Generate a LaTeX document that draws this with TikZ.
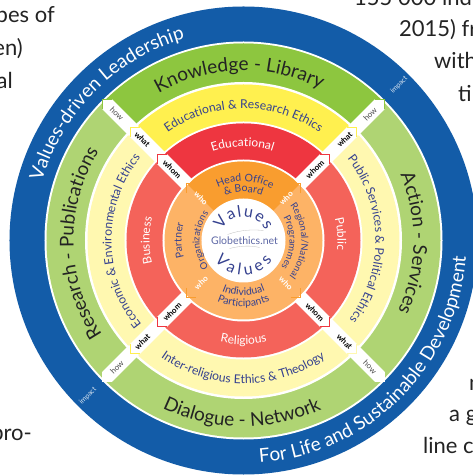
\documentclass[tikz,border=0pt]{standalone}
\usepackage{fontspec}
\setmainfont{Lato}
\usetikzlibrary{decorations.text}
\definecolor{blueband}{HTML}{135CA8}
\definecolor{greentop}{HTML}{8DC63F}
\definecolor{greenside}{HTML}{AFD473}
\definecolor{yellowtop}{HTML}{FFF04F}
\definecolor{yellowside}{HTML}{FFF8B0}
\definecolor{redtop}{HTML}{EE3640}
\definecolor{redside}{HTML}{F4635A}
\definecolor{orangetop}{HTML}{F99D2F}
\definecolor{orangeside}{HTML}{FDB366}
\definecolor{navytext}{HTML}{35418F}
\definecolor{darktext}{HTML}{232323}
\newcommand{\sized}[1]{\fontsize{#1}{#1}\selectfont}
% size, colour, radius, from, to, text
\newcommand{\arctext}[6]{
  \pgfmathsetmacro{\arcfrom}{#4+0.2*(#4-(#5))}
  \pgfmathsetmacro{\arcto}{#5-0.2*(#4-(#5))}
  \path[decorate,decoration={text along path,text align=center,
    text={|\sized{#1}\color{#2}|#6}}]
    (\arcfrom:#3pt) arc[start angle=\arcfrom,end angle=\arcto,radius=#3pt];
}
% angle, inner radius, tip radius, tip colour
\newcommand{\whiteband}[4]{
  \begin{scope}[rotate=#1]
    \fill[white] (#2,-7) -- (#3-7,-7) -- (#3,0) -- (#3-7,7) -- (#2,7) -- cycle;
    \draw[#4,line width=1pt] (#3-7,-7) -- (#3,0) -- (#3-7,7);
  \end{scope}
}
% radius, colour
\newcommand{\topsector}[2]{
  \fill[#2] (0,0) -- (135:#1pt) arc[start angle=135,end angle=45,radius=#1pt] -- cycle;
}
\tikzset{
  bandlabel/.style={font=\sized{8},inner sep=0pt},
  outsidetext/.style={font=\sized{22},text=darktext,inner sep=0pt},
}
\begin{document}
\begin{tikzpicture}[x=1pt,y=1pt]
  \useasboundingbox (-243.5,-235.5) rectangle (229.5,240.5);
  \clip (-243.5,-235.5) rectangle (229.5,240.5);
  \fill[white] (-243.5,-235.5) rectangle (229.5,240.5);
  % text around the wheel
  \begin{scope}[shift={(-243.5,240.5)},y=-1pt]
    \node[outsidetext,anchor=base east] (textA) at (55,23) {pes of};
    \node[outsidetext,anchor=base east] (textB) at (23,56) {en)};
    \node[outsidetext,anchor=base east] (textC) at (13,89) {al};
    \node[outsidetext,anchor=base west] (textD) at (354,6) {155 000 indi};
    \node[outsidetext,anchor=base west] (textE) at (399,37) {2015) fr};
    \node[outsidetext,anchor=base west] (textF) at (434,69) {with};
    \node[outsidetext,anchor=base west] (textG) at (458,102) {ti};
    \node[outsidetext,anchor=base east] (textH) at (32,440) {pro-};
    \node[outsidetext,anchor=base west] (textI) at (469,390) {n};
    \node[outsidetext,anchor=base west] (textJ) at (449,421) {a g};
    \node[outsidetext,anchor=base west] (textK) at (423,453) {line c};
  \end{scope}
  % rings
  \fill[blueband] (0,0) circle (234pt);
  \fill[white] (0,0) circle (199pt);
  \fill[greenside] (0,0) circle (197pt);
  \topsector{197}{greentop}
  \fill[white] (0,0) circle (158.5pt);
  \fill[yellowside] (0,0) circle (156pt);
  \topsector{156}{yellowtop}
  \fill[white] (0,0) circle (119pt);
  \fill[redside] (0,0) circle (117pt);
  \topsector{117}{redtop}
  \fill[white] (0,0) circle (81pt);
  \fill[orangeside] (0,0) circle (79pt);
  \topsector{79}{orangetop}
  \fill[white] (0,0) circle (42pt);
  % bands
  \foreach \ang/\how/\what in {135/greentop/yellowtop,45/greentop/yellowtop,225/white/yellowtop,315/white/yellowside}{
    \whiteband{\ang}{155}{199.5}{\how}
    \whiteband{\ang}{117}{160.5}{\what}
    \whiteband{\ang}{79}{122}{redtop}
    \begin{scope}[rotate=\ang]
      \draw[orangetop,line width=0.8pt] (74,-7) -- (81,0) -- (74,7);
    \end{scope}
  }
  % band labels
  \foreach \n/\ang/\rot in {1/135/-45,2/45/45,3/225/45,4/315/-45}{
    \node[bandlabel,rotate=\rot,text=black!70] (how\n) at (\ang:179) {how};
    \node[bandlabel,rotate=\rot,font=\sized{8}\bfseries] (what\n) at (\ang:143) {what};
    \node[bandlabel,rotate=\rot,font=\sized{8}\bfseries] (whom\n) at (\ang:101) {whom};
    \node[bandlabel,rotate=\rot,text=white,font=\sized{8}\bfseries] (who\n) at (\ang:60) {who};
  }
  \node[bandlabel,rotate=45,text=white!85!blueband,font=\sized{7}] (impactA) at (45:220) {impact};
  \node[bandlabel,rotate=45,text=white!85!blueband,font=\sized{7}] (impactB) at (225:220) {impact};
  % ring texts
  \arctext{19}{white}{210}{163}{107}{Values-driven Leadership}
  \arctext{19}{white}{223}{275}{355}{For Life and Sustainable Development}
  \arctext{19}{darktext}{170}{120}{63}{Knowledge - Library}
  \arctext{19}{darktext}{170}{212}{150}{Research - Publications}
  \arctext{19}{darktext}{170}{21}{-23}{Action - Services}
  \arctext{19}{darktext}{186}{244}{295}{Dialogue - Network}
  \arctext{12.2}{navytext}{132}{125.5}{54.5}{Educational {\&} Research Ethics}
  \arctext{12.2}{navytext}{132}{37.5}{-36}{Public Services {\&} Political Ethics}
  \arctext{12.2}{navytext}{132}{219.6}{141}{Economic {\&} Environmental Ethics}
  \arctext{12.2}{navytext}{143}{234.6}{305}{Inter-religious Ethics {\&} Theology}
  \arctext{12}{white}{94}{110}{71}{Educational}
  \arctext{12}{white}{94}{197}{163}{Business}
  \arctext{12}{white}{94}{12}{-4}{Public}
  \arctext{12}{white}{104}{253}{287}{Religious}
  \arctext{10.5}{navytext}{59}{112}{65}{Head Office}
  \arctext{10.5}{navytext}{48.5}{110}{70}{{\&} Board}
  \arctext{10.5}{navytext}{55}{246}{294}{Individual}
  \arctext{10.5}{navytext}{66}{247}{293}{Participants}
  \arctext{10.5}{navytext}{62}{195}{165}{Partner}
  \arctext{9.5}{navytext}{44}{216}{144}{Organizations}
  \arctext{9.5}{navytext}{58}{36}{-37}{Regional/National}
  \arctext{9.5}{navytext}{46}{28}{-33}{Programmes}
  % centre
  \arctext{16}{navytext}{24}{150}{30}{V{\hspace{1.5pt}}a{\hspace{1.5pt}}l{\hspace{1.5pt}}u{\hspace{1.5pt}}e{\hspace{1.5pt}}s}
  \arctext{16}{navytext}{35}{215}{325}{V a l u e s}
  \node[inner sep=0pt,font=\sized{10.5},text=navytext!80] (logo) at (1,0) {Globethics.net};
  \draw[black!25,line width=0.3pt] (-16,6) .. controls (-2,11) and (10,11) .. (20,10);
  \draw[black!25,line width=0.3pt] (-14,-8) .. controls (-2,-5) and (8,-5) .. (16,-7);
\end{tikzpicture}
\end{document}
